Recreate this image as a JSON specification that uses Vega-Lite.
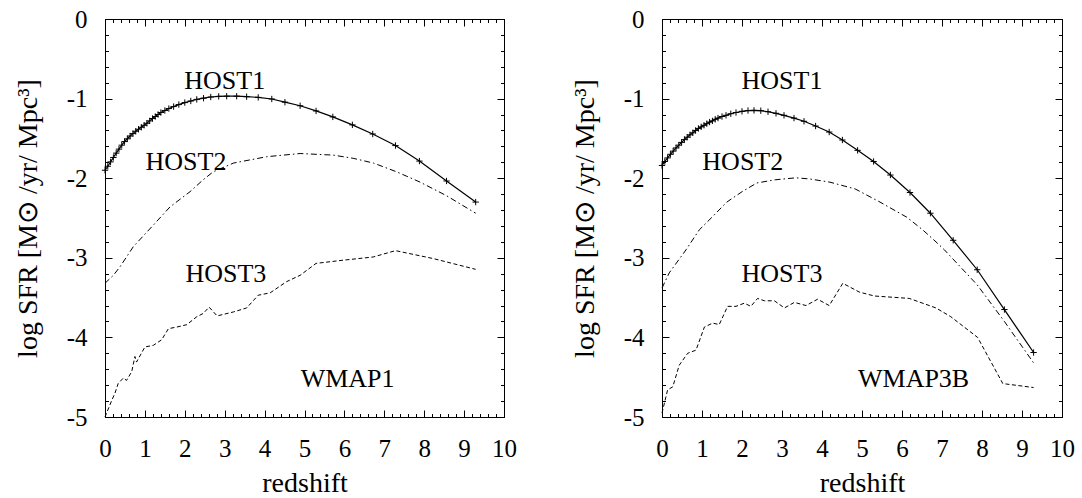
{
  "$schema": "https://vega.github.io/schema/vega-lite/v6.json",
  "padding": {"left": 13, "top": 6, "right": 0, "bottom": 0},
  "background": "white",
  "datasets": {
    "h": [
      {"p":"L","s":"HOST1","z":0,"v":-1.90},{"p":"L","s":"HOST1","z":0.07,"v":-1.85},{"p":"L","s":"HOST1","z":0.14,"v":-1.795},{"p":"L","s":"HOST1","z":0.21,"v":-1.74},{"p":"L","s":"HOST1","z":0.28,"v":-1.685},{"p":"L","s":"HOST1","z":0.35,"v":-1.635},{"p":"L","s":"HOST1","z":0.42,"v":-1.585},{"p":"L","s":"HOST1","z":0.49,"v":-1.54},{"p":"L","s":"HOST1","z":0.56,"v":-1.505},{"p":"L","s":"HOST1","z":0.63,"v":-1.47},{"p":"L","s":"HOST1","z":0.70,"v":-1.44},{"p":"L","s":"HOST1","z":0.77,"v":-1.41},{"p":"L","s":"HOST1","z":0.84,"v":-1.385},{"p":"L","s":"HOST1","z":0.91,"v":-1.36},{"p":"L","s":"HOST1","z":0.98,"v":-1.335},{"p":"L","s":"HOST1","z":1.05,"v":-1.31},{"p":"L","s":"HOST1","z":1.12,"v":-1.28},{"p":"L","s":"HOST1","z":1.19,"v":-1.25},{"p":"L","s":"HOST1","z":1.26,"v":-1.225},{"p":"L","s":"HOST1","z":1.33,"v":-1.20},{"p":"L","s":"HOST1","z":1.40,"v":-1.175},{"p":"L","s":"HOST1","z":1.5,"v":-1.15},{"p":"L","s":"HOST1","z":1.6,"v":-1.125},{"p":"L","s":"HOST1","z":1.72,"v":-1.10},{"p":"L","s":"HOST1","z":1.85,"v":-1.075},{"p":"L","s":"HOST1","z":2.0,"v":-1.05},{"p":"L","s":"HOST1","z":2.15,"v":-1.03},{"p":"L","s":"HOST1","z":2.3,"v":-1.01},{"p":"L","s":"HOST1","z":2.47,"v":-0.995},{"p":"L","s":"HOST1","z":2.65,"v":-0.98},{"p":"L","s":"HOST1","z":2.85,"v":-0.972},{"p":"L","s":"HOST1","z":3.05,"v":-0.97},{"p":"L","s":"HOST1","z":3.3,"v":-0.97},{"p":"L","s":"HOST1","z":3.55,"v":-0.976},{"p":"L","s":"HOST1","z":3.84,"v":-0.985},{"p":"L","s":"HOST1","z":4.18,"v":-1.005},{"p":"L","s":"HOST1","z":4.51,"v":-1.045},{"p":"L","s":"HOST1","z":4.89,"v":-1.09},{"p":"L","s":"HOST1","z":5.29,"v":-1.155},{"p":"L","s":"HOST1","z":5.71,"v":-1.23},{"p":"L","s":"HOST1","z":6.2,"v":-1.33},{"p":"L","s":"HOST1","z":6.71,"v":-1.445},{"p":"L","s":"HOST1","z":7.28,"v":-1.59},{"p":"L","s":"HOST1","z":7.88,"v":-1.785},{"p":"L","s":"HOST1","z":8.56,"v":-2.035},{"p":"L","s":"HOST1","z":9.29,"v":-2.30},
      {"p":"L","s":"HOST2","z":0,"v":-3.32},{"p":"L","s":"HOST2","z":0.21,"v":-3.22},{"p":"L","s":"HOST2","z":0.38,"v":-3.11},{"p":"L","s":"HOST2","z":0.71,"v":-2.86},{"p":"L","s":"HOST2","z":1.21,"v":-2.59},{"p":"L","s":"HOST2","z":1.63,"v":-2.36},{"p":"L","s":"HOST2","z":2.13,"v":-2.17},{"p":"L","s":"HOST2","z":2.46,"v":-2.02},{"p":"L","s":"HOST2","z":2.71,"v":-1.92},{"p":"L","s":"HOST2","z":3.22,"v":-1.81},{"p":"L","s":"HOST2","z":4.05,"v":-1.73},{"p":"L","s":"HOST2","z":4.89,"v":-1.69},{"p":"L","s":"HOST2","z":5.72,"v":-1.71},{"p":"L","s":"HOST2","z":6.22,"v":-1.75},{"p":"L","s":"HOST2","z":6.73,"v":-1.81},{"p":"L","s":"HOST2","z":7.31,"v":-1.92},{"p":"L","s":"HOST2","z":7.9,"v":-2.05},{"p":"L","s":"HOST2","z":8.56,"v":-2.22},{"p":"L","s":"HOST2","z":9.29,"v":-2.44},
      {"p":"L","s":"HOST3","z":0,"v":-5.0},{"p":"L","s":"HOST3","z":0.04,"v":-4.95},{"p":"L","s":"HOST3","z":0.17,"v":-4.79},{"p":"L","s":"HOST3","z":0.25,"v":-4.70},{"p":"L","s":"HOST3","z":0.33,"v":-4.58},{"p":"L","s":"HOST3","z":0.46,"v":-4.51},{"p":"L","s":"HOST3","z":0.54,"v":-4.54},{"p":"L","s":"HOST3","z":0.67,"v":-4.43},{"p":"L","s":"HOST3","z":0.75,"v":-4.24},{"p":"L","s":"HOST3","z":0.79,"v":-4.31},{"p":"L","s":"HOST3","z":1.0,"v":-4.12},{"p":"L","s":"HOST3","z":1.21,"v":-4.10},{"p":"L","s":"HOST3","z":1.42,"v":-4.03},{"p":"L","s":"HOST3","z":1.59,"v":-3.89},{"p":"L","s":"HOST3","z":1.80,"v":-3.87},{"p":"L","s":"HOST3","z":2.05,"v":-3.84},{"p":"L","s":"HOST3","z":2.30,"v":-3.74},{"p":"L","s":"HOST3","z":2.46,"v":-3.70},{"p":"L","s":"HOST3","z":2.61,"v":-3.62},{"p":"L","s":"HOST3","z":2.81,"v":-3.73},{"p":"L","s":"HOST3","z":3.22,"v":-3.68},{"p":"L","s":"HOST3","z":3.55,"v":-3.63},{"p":"L","s":"HOST3","z":3.84,"v":-3.47},{"p":"L","s":"HOST3","z":4.14,"v":-3.44},{"p":"L","s":"HOST3","z":4.55,"v":-3.30},{"p":"L","s":"HOST3","z":4.89,"v":-3.22},{"p":"L","s":"HOST3","z":5.29,"v":-3.07},{"p":"L","s":"HOST3","z":5.97,"v":-3.03},{"p":"L","s":"HOST3","z":6.72,"v":-2.99},{"p":"L","s":"HOST3","z":7.28,"v":-2.91},{"p":"L","s":"HOST3","z":8.23,"v":-3.01},{"p":"L","s":"HOST3","z":9.29,"v":-3.145},
      {"p":"R","s":"HOST1","z":0,"v":-1.84},{"p":"R","s":"HOST1","z":0.07,"v":-1.79},{"p":"R","s":"HOST1","z":0.14,"v":-1.745},{"p":"R","s":"HOST1","z":0.21,"v":-1.70},{"p":"R","s":"HOST1","z":0.28,"v":-1.66},{"p":"R","s":"HOST1","z":0.35,"v":-1.62},{"p":"R","s":"HOST1","z":0.42,"v":-1.585},{"p":"R","s":"HOST1","z":0.49,"v":-1.55},{"p":"R","s":"HOST1","z":0.56,"v":-1.515},{"p":"R","s":"HOST1","z":0.63,"v":-1.485},{"p":"R","s":"HOST1","z":0.70,"v":-1.455},{"p":"R","s":"HOST1","z":0.77,"v":-1.43},{"p":"R","s":"HOST1","z":0.84,"v":-1.40},{"p":"R","s":"HOST1","z":0.91,"v":-1.375},{"p":"R","s":"HOST1","z":0.98,"v":-1.355},{"p":"R","s":"HOST1","z":1.05,"v":-1.335},{"p":"R","s":"HOST1","z":1.12,"v":-1.315},{"p":"R","s":"HOST1","z":1.19,"v":-1.295},{"p":"R","s":"HOST1","z":1.26,"v":-1.28},{"p":"R","s":"HOST1","z":1.33,"v":-1.26},{"p":"R","s":"HOST1","z":1.40,"v":-1.245},{"p":"R","s":"HOST1","z":1.5,"v":-1.225},{"p":"R","s":"HOST1","z":1.6,"v":-1.21},{"p":"R","s":"HOST1","z":1.72,"v":-1.19},{"p":"R","s":"HOST1","z":1.85,"v":-1.175},{"p":"R","s":"HOST1","z":2.0,"v":-1.16},{"p":"R","s":"HOST1","z":2.15,"v":-1.15},{"p":"R","s":"HOST1","z":2.3,"v":-1.148},{"p":"R","s":"HOST1","z":2.47,"v":-1.152},{"p":"R","s":"HOST1","z":2.65,"v":-1.165},{"p":"R","s":"HOST1","z":2.85,"v":-1.185},{"p":"R","s":"HOST1","z":3.05,"v":-1.21},{"p":"R","s":"HOST1","z":3.3,"v":-1.245},{"p":"R","s":"HOST1","z":3.55,"v":-1.285},{"p":"R","s":"HOST1","z":3.84,"v":-1.345},{"p":"R","s":"HOST1","z":4.18,"v":-1.42},{"p":"R","s":"HOST1","z":4.51,"v":-1.52},{"p":"R","s":"HOST1","z":4.89,"v":-1.65},{"p":"R","s":"HOST1","z":5.29,"v":-1.79},{"p":"R","s":"HOST1","z":5.71,"v":-1.96},{"p":"R","s":"HOST1","z":6.2,"v":-2.18},{"p":"R","s":"HOST1","z":6.71,"v":-2.44},{"p":"R","s":"HOST1","z":7.28,"v":-2.78},{"p":"R","s":"HOST1","z":7.88,"v":-3.15},{"p":"R","s":"HOST1","z":8.56,"v":-3.65},{"p":"R","s":"HOST1","z":9.29,"v":-4.19},
      {"p":"R","s":"HOST2","z":0,"v":-3.38},{"p":"R","s":"HOST2","z":0.18,"v":-3.19},{"p":"R","s":"HOST2","z":0.6,"v":-2.90},{"p":"R","s":"HOST2","z":0.93,"v":-2.65},{"p":"R","s":"HOST2","z":1.27,"v":-2.48},{"p":"R","s":"HOST2","z":1.62,"v":-2.30},{"p":"R","s":"HOST2","z":2.0,"v":-2.17},{"p":"R","s":"HOST2","z":2.37,"v":-2.06},{"p":"R","s":"HOST2","z":2.83,"v":-2.02},{"p":"R","s":"HOST2","z":3.35,"v":-1.995},{"p":"R","s":"HOST2","z":3.7,"v":-2.01},{"p":"R","s":"HOST2","z":4.2,"v":-2.05},{"p":"R","s":"HOST2","z":4.83,"v":-2.135},{"p":"R","s":"HOST2","z":5.45,"v":-2.30},{"p":"R","s":"HOST2","z":6.12,"v":-2.49},{"p":"R","s":"HOST2","z":6.52,"v":-2.65},{"p":"R","s":"HOST2","z":6.85,"v":-2.80},{"p":"R","s":"HOST2","z":7.06,"v":-2.90},{"p":"R","s":"HOST2","z":7.88,"v":-3.34},{"p":"R","s":"HOST2","z":8.56,"v":-3.80},{"p":"R","s":"HOST2","z":9.29,"v":-4.32},
      {"p":"R","s":"HOST3","z":0,"v":-4.95},{"p":"R","s":"HOST3","z":0.14,"v":-4.66},{"p":"R","s":"HOST3","z":0.27,"v":-4.62},{"p":"R","s":"HOST3","z":0.43,"v":-4.35},{"p":"R","s":"HOST3","z":0.64,"v":-4.20},{"p":"R","s":"HOST3","z":0.85,"v":-4.16},{"p":"R","s":"HOST3","z":1.06,"v":-3.87},{"p":"R","s":"HOST3","z":1.27,"v":-3.82},{"p":"R","s":"HOST3","z":1.43,"v":-3.84},{"p":"R","s":"HOST3","z":1.64,"v":-3.61},{"p":"R","s":"HOST3","z":1.85,"v":-3.61},{"p":"R","s":"HOST3","z":2.06,"v":-3.57},{"p":"R","s":"HOST3","z":2.22,"v":-3.61},{"p":"R","s":"HOST3","z":2.39,"v":-3.51},{"p":"R","s":"HOST3","z":2.56,"v":-3.54},{"p":"R","s":"HOST3","z":2.81,"v":-3.54},{"p":"R","s":"HOST3","z":3.06,"v":-3.63},{"p":"R","s":"HOST3","z":3.31,"v":-3.56},{"p":"R","s":"HOST3","z":3.6,"v":-3.60},{"p":"R","s":"HOST3","z":3.89,"v":-3.52},{"p":"R","s":"HOST3","z":4.18,"v":-3.60},{"p":"R","s":"HOST3","z":4.52,"v":-3.32},{"p":"R","s":"HOST3","z":4.93,"v":-3.43},{"p":"R","s":"HOST3","z":5.31,"v":-3.48},{"p":"R","s":"HOST3","z":6.18,"v":-3.51},{"p":"R","s":"HOST3","z":6.85,"v":-3.63},{"p":"R","s":"HOST3","z":7.22,"v":-3.74},{"p":"R","s":"HOST3","z":7.89,"v":-4.0},{"p":"R","s":"HOST3","z":8.52,"v":-4.58},{"p":"R","s":"HOST3","z":9.29,"v":-4.63}
    ],
    "lab": [
      {"p":"L","t":"HOST1","z":3.0,"v":-0.78},{"p":"L","t":"HOST2","z":2.03,"v":-1.80},{"p":"L","t":"HOST3","z":3.03,"v":-3.20},{"p":"L","t":"WMAP1","z":6.08,"v":-4.52},
      {"p":"R","t":"HOST1","z":3.0,"v":-0.78},{"p":"R","t":"HOST2","z":2.02,"v":-1.80},{"p":"R","t":"HOST3","z":3.0,"v":-3.20},{"p":"R","t":"WMAP3B","z":6.29,"v":-4.52}
    ]
  },
  "hconcat": [
    {
      "width": 399, "height": 398,
      "layer": [
        {"data": {"name": "h"}, "transform": [{"filter": "datum.p=='L' && datum.s=='HOST1'"}],
         "mark": {"type": "line", "color": "black", "strokeWidth": 1.2},
         "encoding": {
           "x": {"field": "z", "type": "quantitative", "scale": {"domain": [0, 10], "nice": false, "zero": false},
                 "axis": {"orient": "bottom", "values": [0,1,2,3,4,5,6,7,8,9,10], "tickSize": -7, "labelPadding": 26, "title": "redshift", "titlePadding": 8, "domain": true}},
           "y": {"field": "v", "type": "quantitative", "scale": {"domain": [-5, 0], "nice": false, "zero": false},
                 "axis": {"orient": "left", "values": [0,-1,-2,-3,-4,-5], "tickSize": -7, "labelPadding": 25, "labelExpr": "datum.value == 0 ? '0' : '-' + abs(datum.value)", "title": "log SFR [M⊙ /yr/ Mpc³]", "titlePadding": 24, "domain": true}}
         }},
        {"data": {"name": "h"}, "transform": [{"filter": "datum.p=='L' && datum.s=='HOST1'"}],
         "mark": {"type": "point", "shape": "M-1,0L1,0M0,-1L0,1", "size": 40, "filled": false, "stroke": "black", "strokeWidth": 1, "opacity": 1},
         "encoding": {
           "x": {"field": "z", "type": "quantitative", "scale": {"domain": [0, 10], "nice": false, "zero": false},
                 "axis": {"orient": "bottom", "values": [0.2,0.4,0.6,0.8,1.2,1.4,1.6,1.8,2.2,2.4,2.6,2.8,3.2,3.4,3.6,3.8,4.2,4.4,4.6,4.8,5.2,5.4,5.6,5.8,6.2,6.4,6.6,6.8,7.2,7.4,7.6,7.8,8.2,8.4,8.6,8.8,9.2,9.4,9.6,9.8], "tickSize": -3.5, "labels": false, "title": null, "domain": false}},
           "y": {"field": "v", "type": "quantitative", "scale": {"domain": [-5, 0], "nice": false, "zero": false},
                 "axis": {"orient": "left", "values": [-0.2,-0.4,-0.6,-0.8,-1.2,-1.4,-1.6,-1.8,-2.2,-2.4,-2.6,-2.8,-3.2,-3.4,-3.6,-3.8,-4.2,-4.4,-4.6,-4.8], "tickSize": -3.5, "labels": false, "title": null, "domain": false}}
         }},
        {"data": {"name": "h"}, "transform": [{"filter": "datum.p=='L' && datum.s=='HOST2'"}],
         "mark": {"type": "line", "color": "black", "strokeWidth": 1, "strokeDash": [6, 3, 1.5, 3]},
         "encoding": {
           "x": {"field": "z", "type": "quantitative", "scale": {"domain": [0, 10], "nice": false, "zero": false},
                 "axis": {"orient": "top", "values": [0,1,2,3,4,5,6,7,8,9,10], "tickSize": -7, "labels": false, "title": null, "domain": true}},
           "y": {"field": "v", "type": "quantitative", "scale": {"domain": [-5, 0], "nice": false, "zero": false},
                 "axis": {"orient": "right", "values": [0,-1,-2,-3,-4,-5], "tickSize": -7, "labels": false, "title": null, "domain": true}}
         }},
        {"data": {"name": "h"}, "transform": [{"filter": "datum.p=='L' && datum.s=='HOST3'"}],
         "mark": {"type": "line", "color": "black", "strokeWidth": 1, "strokeDash": [4, 2.5]},
         "encoding": {
           "x": {"field": "z", "type": "quantitative", "scale": {"domain": [0, 10], "nice": false, "zero": false},
                 "axis": {"orient": "top", "values": [0.2,0.4,0.6,0.8,1.2,1.4,1.6,1.8,2.2,2.4,2.6,2.8,3.2,3.4,3.6,3.8,4.2,4.4,4.6,4.8,5.2,5.4,5.6,5.8,6.2,6.4,6.6,6.8,7.2,7.4,7.6,7.8,8.2,8.4,8.6,8.8,9.2,9.4,9.6,9.8], "tickSize": -3.5, "labels": false, "title": null, "domain": false}},
           "y": {"field": "v", "type": "quantitative", "scale": {"domain": [-5, 0], "nice": false, "zero": false},
                 "axis": {"orient": "right", "values": [-0.2,-0.4,-0.6,-0.8,-1.2,-1.4,-1.6,-1.8,-2.2,-2.4,-2.6,-2.8,-3.2,-3.4,-3.6,-3.8,-4.2,-4.4,-4.6,-4.8], "tickSize": -3.5, "labels": false, "title": null, "domain": false}}
         }},
        {"data": {"name": "lab"}, "transform": [{"filter": "datum.p=='L'"}],
         "mark": {"type": "text", "font": "Liberation Serif", "fontSize": 26, "color": "black", "align": "center", "baseline": "middle"},
         "encoding": {
           "x": {"field": "z", "type": "quantitative", "scale": {"domain": [0, 10], "nice": false, "zero": false}, "axis": null},
           "y": {"field": "v", "type": "quantitative", "scale": {"domain": [-5, 0], "nice": false, "zero": false}, "axis": null},
           "text": {"field": "t"}
         }}
      ],
      "resolve": {"axis": {"x": "independent", "y": "independent"}}
    },
    {
      "width": 400, "height": 398,
      "layer": [
        {"data": {"name": "h"}, "transform": [{"filter": "datum.p=='R' && datum.s=='HOST1'"}],
         "mark": {"type": "line", "color": "black", "strokeWidth": 1.2},
         "encoding": {
           "x": {"field": "z", "type": "quantitative", "scale": {"domain": [0, 10], "nice": false, "zero": false},
                 "axis": {"orient": "bottom", "values": [0,1,2,3,4,5,6,7,8,9,10], "tickSize": -7, "labelPadding": 26, "title": "redshift", "titlePadding": 8, "domain": true}},
           "y": {"field": "v", "type": "quantitative", "scale": {"domain": [-5, 0], "nice": false, "zero": false},
                 "axis": {"orient": "left", "values": [0,-1,-2,-3,-4,-5], "tickSize": -7, "labelPadding": 25, "labelExpr": "datum.value == 0 ? '0' : '-' + abs(datum.value)", "title": "log SFR [M⊙ /yr/ Mpc³]", "titlePadding": 24, "domain": true}}
         }},
        {"data": {"name": "h"}, "transform": [{"filter": "datum.p=='R' && datum.s=='HOST1'"}],
         "mark": {"type": "point", "shape": "M-1,0L1,0M0,-1L0,1", "size": 40, "filled": false, "stroke": "black", "strokeWidth": 1, "opacity": 1},
         "encoding": {
           "x": {"field": "z", "type": "quantitative", "scale": {"domain": [0, 10], "nice": false, "zero": false},
                 "axis": {"orient": "bottom", "values": [0.2,0.4,0.6,0.8,1.2,1.4,1.6,1.8,2.2,2.4,2.6,2.8,3.2,3.4,3.6,3.8,4.2,4.4,4.6,4.8,5.2,5.4,5.6,5.8,6.2,6.4,6.6,6.8,7.2,7.4,7.6,7.8,8.2,8.4,8.6,8.8,9.2,9.4,9.6,9.8], "tickSize": -3.5, "labels": false, "title": null, "domain": false}},
           "y": {"field": "v", "type": "quantitative", "scale": {"domain": [-5, 0], "nice": false, "zero": false},
                 "axis": {"orient": "left", "values": [-0.2,-0.4,-0.6,-0.8,-1.2,-1.4,-1.6,-1.8,-2.2,-2.4,-2.6,-2.8,-3.2,-3.4,-3.6,-3.8,-4.2,-4.4,-4.6,-4.8], "tickSize": -3.5, "labels": false, "title": null, "domain": false}}
         }},
        {"data": {"name": "h"}, "transform": [{"filter": "datum.p=='R' && datum.s=='HOST2'"}],
         "mark": {"type": "line", "color": "black", "strokeWidth": 1, "strokeDash": [6, 3, 1.5, 3]},
         "encoding": {
           "x": {"field": "z", "type": "quantitative", "scale": {"domain": [0, 10], "nice": false, "zero": false},
                 "axis": {"orient": "top", "values": [0,1,2,3,4,5,6,7,8,9,10], "tickSize": -7, "labels": false, "title": null, "domain": true}},
           "y": {"field": "v", "type": "quantitative", "scale": {"domain": [-5, 0], "nice": false, "zero": false},
                 "axis": {"orient": "right", "values": [0,-1,-2,-3,-4,-5], "tickSize": -7, "labels": false, "title": null, "domain": true}}
         }},
        {"data": {"name": "h"}, "transform": [{"filter": "datum.p=='R' && datum.s=='HOST3'"}],
         "mark": {"type": "line", "color": "black", "strokeWidth": 1, "strokeDash": [4, 2.5]},
         "encoding": {
           "x": {"field": "z", "type": "quantitative", "scale": {"domain": [0, 10], "nice": false, "zero": false},
                 "axis": {"orient": "top", "values": [0.2,0.4,0.6,0.8,1.2,1.4,1.6,1.8,2.2,2.4,2.6,2.8,3.2,3.4,3.6,3.8,4.2,4.4,4.6,4.8,5.2,5.4,5.6,5.8,6.2,6.4,6.6,6.8,7.2,7.4,7.6,7.8,8.2,8.4,8.6,8.8,9.2,9.4,9.6,9.8], "tickSize": -3.5, "labels": false, "title": null, "domain": false}},
           "y": {"field": "v", "type": "quantitative", "scale": {"domain": [-5, 0], "nice": false, "zero": false},
                 "axis": {"orient": "right", "values": [-0.2,-0.4,-0.6,-0.8,-1.2,-1.4,-1.6,-1.8,-2.2,-2.4,-2.6,-2.8,-3.2,-3.4,-3.6,-3.8,-4.2,-4.4,-4.6,-4.8], "tickSize": -3.5, "labels": false, "title": null, "domain": false}}
         }},
        {"data": {"name": "lab"}, "transform": [{"filter": "datum.p=='R'"}],
         "mark": {"type": "text", "font": "Liberation Serif", "fontSize": 26, "color": "black", "align": "center", "baseline": "middle"},
         "encoding": {
           "x": {"field": "z", "type": "quantitative", "scale": {"domain": [0, 10], "nice": false, "zero": false}, "axis": null},
           "y": {"field": "v", "type": "quantitative", "scale": {"domain": [-5, 0], "nice": false, "zero": false}, "axis": null},
           "text": {"field": "t"}
         }}
      ],
      "resolve": {"axis": {"x": "independent", "y": "independent"}}
    }
  ],
  "spacing": 53,
  "config": {
    "font": "Liberation Serif",
    "view": {"stroke": "black", "strokeWidth": 1},
    "axis": {"labelFont": "Liberation Serif", "labelFontSize": 25, "labelColor": "black", "titleFont": "Liberation Serif", "titleFontSize": 28, "titleFontWeight": "normal", "titleColor": "black", "tickColor": "black", "tickWidth": 1, "domainColor": "black", "domainWidth": 1, "grid": false, "labelFlush": false, "labelOverlap": false},
    "text": {"font": "Liberation Serif"}
  }
}
